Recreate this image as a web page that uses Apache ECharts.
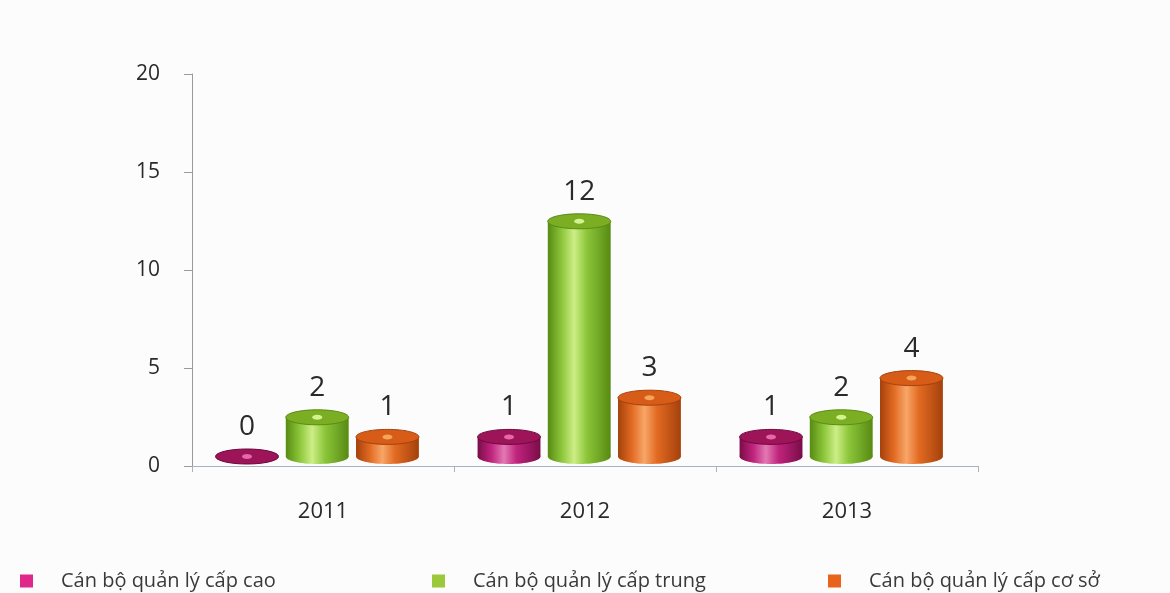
<!DOCTYPE html>
<html>
<head>
<meta charset="utf-8">
<script src="https://cdn.jsdelivr.net/npm/echarts@6/dist/echarts.min.js"></script>
<style>
  html, body { margin: 0; padding: 0; background: #fcfcfc; }
  #chart { width: 1170px; height: 593px; }
</style>
</head>
<body>
<div id="chart"></div>
<script>
// Years on the category axis
const years = ['2011', '2012', '2013'];
// Number of staff per management level
const seniorStaff = [0, 1, 1];
const middleStaff = [2, 12, 2];
const baseStaff = [1, 3, 4];
const seriesNames = ['Cán bộ quản lý cấp cao', 'Cán bộ quản lý cấp trung', 'Cán bộ quản lý cấp cơ sở'];
const yTicks = { min: 0, max: 20, interval: 5 };

const palettes = [
  { legend: '#e0288a', dark: '#7a0c48', mid: '#c0247d', light: '#e378b4', top: '#9e1459', rim: '#6e0a40', dot: '#e668a8' },
  { legend: '#9cc83c', dark: '#578a12', mid: '#8cc63a', light: '#cdee86', top: '#7cae24', rim: '#5a8a14', dot: '#d2f490' },
  { legend: '#e8641c', dark: '#a4410c', mid: '#e26a22', light: '#f7a668', top: '#d65c18', rim: '#a4410c', dot: '#f6a45a' }
];

const FONT = '"Open Sans", sans-serif';

function bodyGradient(p) {
  return {
    type: 'linear', x: 0, y: 0, x2: 1, y2: 0,
    colorStops: [
      { offset: 0, color: p.dark },
      { offset: 0.22, color: p.mid },
      { offset: 0.42, color: p.light },
      { offset: 0.62, color: p.mid },
      { offset: 1, color: p.dark }
    ]
  };
}

// Draws one cylinder per data item: body, base ellipse, top ellipse and value label
function cylinderRenderer(idx) {
  const p = palettes[idx];
  return function (params, api) {
    const cat = api.value(0);
    const v = api.value(1);
    const top = api.coord([cat, v]);
    const base = api.coord([cat, 0]);
    const band = api.size([1, 0])[0];
    const cx = top[0] + (idx - 1) * band * 0.268 - band * 0.022;
    const rx = band * 0.12;
    const ry = 7.5;
    const topY = top[1] - ry - 2;
    const botY = base[1] - ry - 2;
    return {
      type: 'group',
      children: [
        { type: 'ellipse', shape: { cx: cx, cy: botY, rx: rx, ry: ry }, style: { fill: bodyGradient(p) } },
        { type: 'rect', shape: { x: cx - rx, y: topY, width: rx * 2, height: botY - topY }, style: { fill: bodyGradient(p) } },
        { type: 'ellipse', shape: { cx: cx, cy: topY, rx: rx, ry: ry }, style: { fill: p.top, stroke: p.rim, lineWidth: 1 } },
        { type: 'ellipse', shape: { cx: cx, cy: topY, rx: 5, ry: 2.5 }, style: { fill: p.dot } },
        {
          type: 'text',
          style: {
            text: String(v), x: cx, y: topY - ry - 8,
            align: 'center', verticalAlign: 'bottom',
            fill: '#2a2a2a', font: '28px ' + FONT
          }
        }
      ]
    };
  };
}

const seriesData = [seniorStaff, middleStaff, baseStaff];

const chart = echarts.init(document.getElementById('chart'), null, { renderer: 'canvas' });

const legendLefts = [15, 427, 823];

chart.setOption({
  backgroundColor: '#fcfcfc',
  animation: false,
  grid: { left: 192, right: 192, top: 74, bottom: 127 },
  legend: seriesNames.map((n, i) => ({
    data: [n],
    left: legendLefts[i],
    top: 566,
    icon: 'rect',
    itemWidth: 13,
    itemHeight: 13,
    textStyle: { color: '#3a3a3a', fontSize: 20, fontFamily: FONT, padding: [0, 0, 0, 23] }
  })),
  xAxis: {
    type: 'category',
    data: years,
    boundaryGap: true,
    axisLine: { lineStyle: { color: '#aab3bd', width: 1 } },
    axisTick: { show: true, length: 6, interval: 0, lineStyle: { color: '#aab3bd' } },
    axisLabel: { color: '#2a2a2a', fontSize: 22, margin: 35, fontFamily: FONT }
  },
  yAxis: {
    type: 'value',
    min: yTicks.min,
    max: yTicks.max,
    interval: yTicks.interval,
    splitLine: { show: false },
    axisLine: { show: true, lineStyle: { color: '#9a9a9a' } },
    axisTick: { show: true, length: 8, lineStyle: { color: '#9a9a9a' } },
    axisLabel: { color: '#2a2a2a', fontSize: 21, margin: 32, fontFamily: FONT }
  },
  series: seriesNames.map((n, i) => ({
    name: n,
    type: 'custom',
    itemStyle: { color: palettes[i].legend },
    renderItem: cylinderRenderer(i),
    encode: { x: 0, y: 1 },
    data: seriesData[i].map((v, k) => [k, v])
  }))
});
</script>
</body>
</html>
